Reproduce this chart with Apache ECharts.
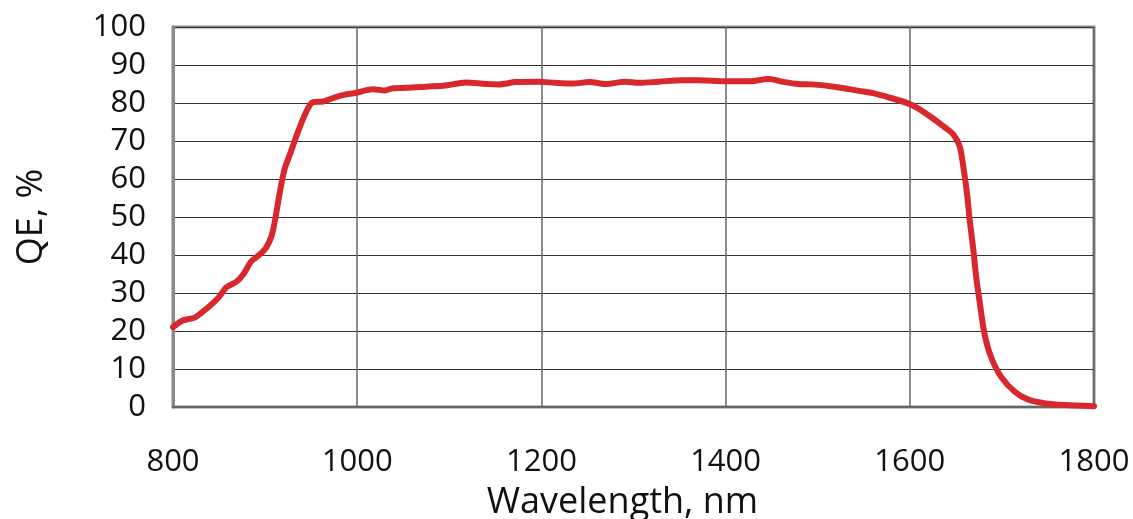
<!DOCTYPE html>
<html>
<head>
<meta charset="utf-8">
<script src="https://cdn.jsdelivr.net/npm/echarts@6/dist/echarts.min.js"></script>
<style>
html,body{margin:0;padding:0;background:#fff;}
#chart{width:1133px;height:519px;}
</style>
</head>
<body>
<div id="chart"></div>
<script>
const wavelengths = [800,811,824,836,849,858,869,876,885,894,901,907,911,916,921,927,934,941,947,952,963,981,999,1017,1030,1039,1054,1075,1096,1118,1140,1154,1172,1197,1215,1234,1252,1270,1291,1306,1327,1353,1371,1400,1425,1447,1462,1479,1494,1520,1545,1560,1577,1598,1609,1623,1638,1647,1654,1658,1662,1665,1669,1672,1676,1681,1688,1699,1714,1728,1746,1768,1800];
const qe = [21,22.8,23.6,25.8,28.7,31.5,33,34.8,38.3,40.1,41.9,45,49.5,56.5,62.5,66.5,71.3,75.7,78.8,80.2,80.4,81.9,82.7,83.6,83.3,83.9,84.0,84.3,84.6,85.4,85.0,84.9,85.5,85.6,85.3,85.1,85.5,85.0,85.6,85.3,85.6,86.0,86.0,85.7,85.7,86.3,85.6,85.0,84.9,84.2,83.2,82.6,81.5,79.9,78.6,76.3,73.6,71.8,68.7,63.4,56.4,49.3,41.4,34.4,27.4,19.4,13.3,8.0,4.0,2.0,1.0,0.5,0.2];
const xTicks = [800,1000,1200,1400,1600,1800];
const yTicks = [0,10,20,30,40,50,60,70,80,90,100];
const xName = 'Wavelength, nm';
const yName = 'QE, %';

const chart = echarts.init(document.getElementById('chart'));
const font = '"Open Sans", "Noto Sans", sans-serif';
chart.setOption({
  animation: false,
  grid: {left: 173, right: 39, top: 27, bottom: 112, show: true, borderColor: '#8a8a8a', borderWidth: 3, backgroundColor: 'transparent', containLabel: false, outerBoundsMode: 'none'},
  xAxis: {
    type: 'value', min: xTicks[0], max: xTicks[xTicks.length-1], interval: 200,
    name: xName, nameLocation: 'middle', nameGap: 78,
    nameTextStyle: {fontFamily: font, fontSize: 36, color: '#111', padding: [0, 22, 0, 0]},
    axisLine: {show: true, lineStyle: {color: '#666', width: 2}},
    axisTick: {show: false},
    axisLabel: {fontFamily: font, fontSize: 31, color: '#111', margin: 40, formatter: v => String(v)},
    splitLine: {show: true, lineStyle: {color: '#666', width: 1.5}}
  },
  yAxis: {
    type: 'value', min: yTicks[0], max: yTicks[yTicks.length-1], interval: 10,
    name: yName, nameLocation: 'middle', nameGap: 123, nameRotate: 90,
    nameTextStyle: {fontFamily: font, fontSize: 36, color: '#111'},
    axisLine: {show: true, lineStyle: {color: '#8a8a8a', width: 3}},
    axisTick: {show: false},
    axisLabel: {fontFamily: font, fontSize: 31, color: '#111', margin: 27, formatter: v => String(v)},
    splitLine: {show: true, lineStyle: {color: '#333', width: 1.2}}
  },
  series: [{
    type: 'line',
    data: wavelengths.map((w, i) => [w, qe[i]]),
    showSymbol: false,
    smooth: 0.3,
    lineStyle: {color: '#d9272e', width: 6, cap: 'round', join: 'round'},
    z: 5
  }]
});
</script>
</body>
</html>
